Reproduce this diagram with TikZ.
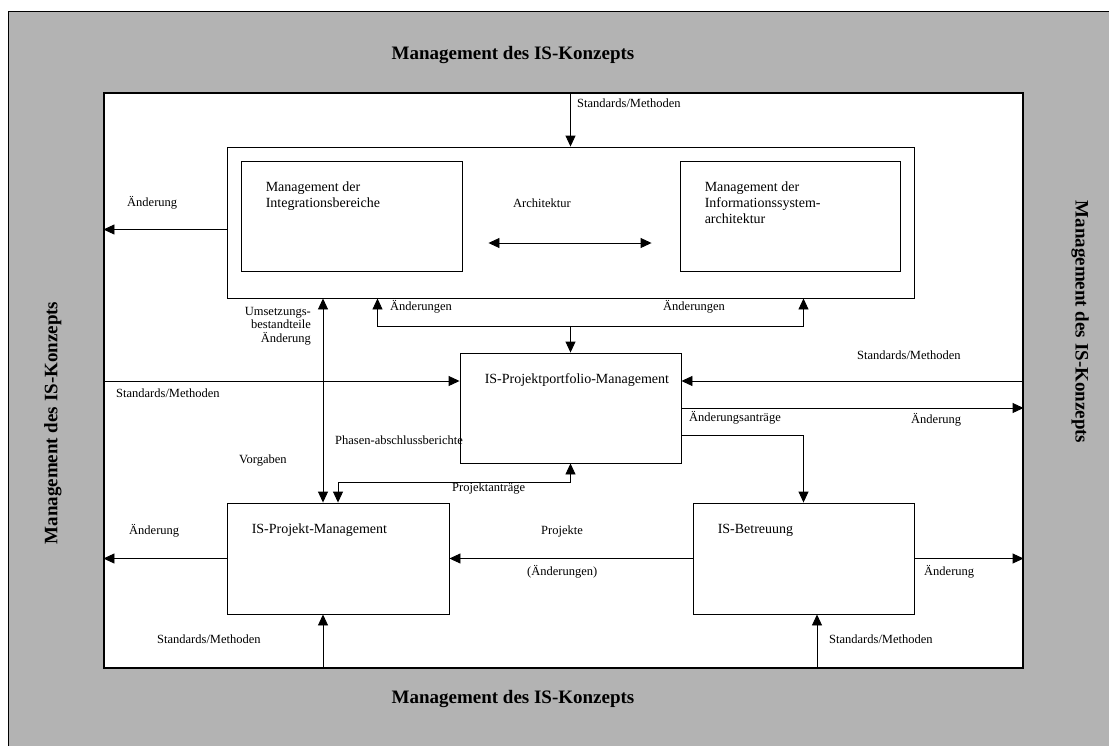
\documentclass[tikz,border=0pt]{standalone}
\usepackage{fontspec}
\setmainfont{Liberation Serif}
\usetikzlibrary{arrows.meta, positioning}
\definecolor{rahmengrau}{RGB}{179,179,179}

\begin{document}
\begin{tikzpicture}[x=1pt,y=-1pt,on grid,>={Triangle[length=11pt,width=10pt]},
      every node/.style={font=\fontsize{12.5}{13.5}\selectfont},
      box/.style={draw,line width=0.9pt,minimum width=221pt,minimum height=110pt,inner sep=0pt},
      boxtext/.style={anchor=north west,xshift=25pt,yshift=-21pt,inner sep=0pt,align=left,
        font=\fontsize{14}{16}\selectfont},
      titel/.style={font=\bfseries\fontsize{19}{21}\selectfont},
      lbl/.style={anchor=west,inner sep=0pt},
      flow/.style={->,line width=0.9pt},
      biflow/.style={<->,line width=0.9pt}]
      \useasboundingbox (0,0) rectangle (1109,745);
      \clip (0,0) rectangle (1109,745);
      \filldraw[fill=rahmengrau,draw=black,line width=0.8pt] (8,11) rectangle (1130,760);
      \node[draw,fill=white,line width=1.1pt,minimum width=919pt,minimum height=575pt] (konzept) at (563.5,380.5) {};

      \node[titel] (titeloben) at (513,55) {Management des IS-Konzepts};
      \node[titel] (titelunten) at (513,699) {Management des IS-Konzepts};
      \node[titel,rotate=90] (titellinks) at (53,423) {Management des IS-Konzepts};
      \node[titel,rotate=-90] (titelrechts) at (1080,322) {Management des IS-Konzepts};

      \node[box,minimum width=687pt,minimum height=151pt] (arch) at (570.5,222.5) {};
      \node[box] (integ) at (351.5,216) {};
      \node[box,minimum width=220pt] (isarch) [right=438.5pt of integ] {};
      \node[box] (portfolio) [below=185.5pt of arch] {};
      \node[box,minimum width=222pt,minimum height=111pt] (projman) at (338,558.5) {};
      \node[box,minimum height=111pt] (betreu) [right=465.5pt of projman] {};

      \node[boxtext] (integtext) at (integ.north west) {Management der\\Integrationsbereiche};
      \node[boxtext] (isarchtext) at (isarch.north west) {Management der\\Informationssystem-\\architektur};
      \node[boxtext] (portfoliotext) at (portfolio.north west) {IS-Projektportfolio-Management};
      \node[boxtext] (projmantext) at (projman.north west) {IS-Projekt-Management};
      \node[boxtext] (betreutext) at (betreu.north west) {IS-Betreuung};

      \coordinate (verteiler) at ([yshift=-27.5pt]arch.south);
      \draw[flow] (konzept.north -| arch.north) -- (arch.north);
      \draw[flow] ([yshift=-7pt]arch.west) -- ([yshift=-7pt]arch.west -| konzept.west);
      \draw[biflow,shorten <=26pt,shorten >=28pt] ([yshift=-27pt]integ.east) -- ([yshift=-27pt]isarch.west);
      \draw[biflow] ([xshift=-15pt]projman.north) -- ([xshift=-15pt]projman.north |- arch.south);
      \draw[flow] (verteiler) -- (portfolio.north);
      \draw[flow] (verteiler) -| ([xshift=-193pt]arch.south);
      \draw[flow] (verteiler) -| (betreu.north |- arch.south);
      \draw[flow] ([yshift=27pt]portfolio.west -| konzept.west) -- ([yshift=27pt]portfolio.west);
      \draw[flow] ([yshift=27pt]portfolio.east -| konzept.east) -- ([yshift=27pt]portfolio.east);
      \draw[flow] (portfolio.east) -- (portfolio.east -| konzept.east);
      \draw[flow] ([yshift=-27pt]portfolio.east) -| (betreu.north);
      \draw[biflow] (projman.north) -- ([yshift=20pt]projman.north) -| (portfolio.south);
      \draw[flow] (projman.west) -- (projman.west -| konzept.west);
      \draw[flow] (betreu.west) -- (projman.east);
      \draw[flow] (betreu.east) -- (betreu.east -| konzept.east);
      \draw[flow] ([xshift=-15pt]projman.south |- konzept.south) -- ([xshift=-15pt]projman.south);
      \draw[flow] ([xshift=13.5pt]betreu.south |- konzept.south) -- ([xshift=13.5pt]betreu.south);

      \node[lbl] (stdoben) at (577,103) {Standards/Methoden};
      \node[lbl] (aendoben) at (127,203) {Änderung};
      \node[lbl] (architektur) at (513,203) {Architektur};
      \node[anchor=east,align=right,inner sep=0pt] (umsetzung) at (311,326) {Umsetzungs-\\bestandteile\\Änderung};
      \node[lbl] (aendlinks) at (390,307) {Änderungen};
      \node[lbl] (aendrechts) at (663,307) {Änderungen};
      \node[lbl] (stdrechts) at (857,355) {Standards/Methoden};
      \node[lbl] (stdlinks) at (116,393) {Standards/Methoden};
      \node[lbl] (antraege) at (689,418) {Änderungsanträge};
      \node[lbl] (aendmitte) at (911,420) {Änderung};
      \node[lbl] (phasen) at (335,440) {Phasen-abschlussberichte};
      \node[lbl] (vorgaben) at (239,461) {Vorgaben};
      \node[lbl] (projantraege) at (452,489) {Projektanträge};
      \node[lbl] (aendunten) at (129,531) {Änderung};
      \node[lbl] (projekte) at (541,531) {Projekte};
      \node[lbl] (klammer) at (527,572) {(Änderungen)};
      \node[lbl] (aendbetreu) at (924,572) {Änderung};
      \node[lbl] (stdunten) at (157,639) {Standards/Methoden};
      \node[lbl] (stdbetreu) at (829,639) {Standards/Methoden};
\end{tikzpicture}
\end{document}
